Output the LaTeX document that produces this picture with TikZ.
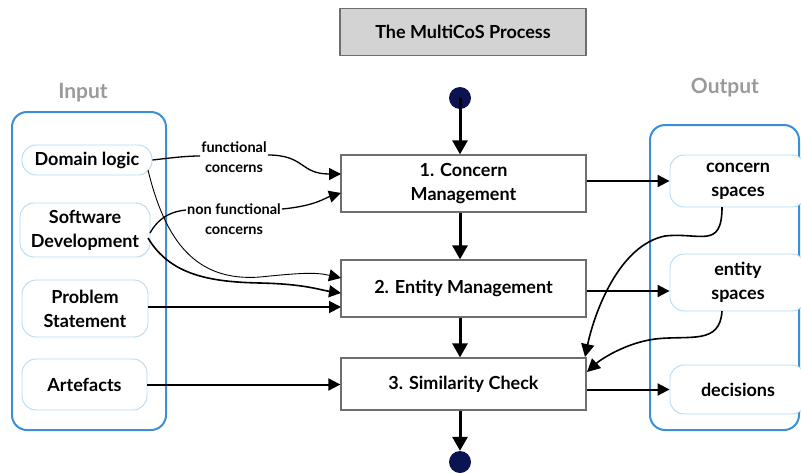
\documentclass[tikz,border=0pt]{standalone}
\usepackage{fontspec}
\setmainfont{Lato}
\usetikzlibrary{arrows.meta,positioning}
\definecolor{frameblue}{HTML}{3B8FD9}
\definecolor{itemblue}{HTML}{B3DAF5}
\definecolor{dotnavy}{HTML}{0B1450}
\definecolor{boxgray}{HTML}{6E6E6E}
\definecolor{titlefill}{HTML}{D3D3D3}
\definecolor{labelgray}{HTML}{9A9A9A}
\tikzset{
  stepbox/.style={draw=boxgray, line width=1.3pt, fill=white, minimum width=245pt,
    align=center, font=\fontsize{18}{24}\selectfont\bfseries},
  item/.style={draw=itemblue, line width=0.9pt, rounded corners=14pt, fill=white,
    align=center, font=\fontsize{18}{24}\selectfont\bfseries},
  frame/.style={draw=frameblue, line width=2pt, rounded corners=15pt},
  grouplabel/.style={text=labelgray, font=\fontsize{21}{24}\selectfont\bfseries},
  edgelabel/.style={align=center, font=\fontsize{14.5}{20}\selectfont\bfseries, inner sep=1pt},
  flow/.style={line width=3pt, -{Triangle[length=14pt,width=15pt]}},
  feed/.style={line width=2pt, -{Triangle[length=12pt,width=12pt]}},
  thinfeed/.style={line width=0.9pt, -{Triangle[length=12pt,width=12pt]}},
  dot/.style={circle, fill=dotnavy, minimum size=22pt, inner sep=0pt},
}
\begin{document}
\begin{tikzpicture}[x=1pt,y=-1pt]
\useasboundingbox (0,0) rectangle (801,472);
\clip (0,0) rectangle (801,472);

% title
\node[draw=boxgray, line width=1.3pt, fill=titlefill, minimum width=246pt, minimum height=47pt,
  font=\fontsize{18}{22}\selectfont\bfseries] (title) at (463,32) {The MultiCoS Process};

% group frames
\draw[frame] (12,112) rectangle (166,430);
\draw[frame] (650,125) rectangle (799,430);
\node[grouplabel] (inlabel) at (83,93) {Input};
\node[grouplabel] (outlabel) at (725,88) {Output};

% process steps
\node[stepbox, minimum height=57pt] (s1) at (463.5,183.5) {1. Concern\\Management};
\node[stepbox, minimum height=57pt] (s2) at (463.5,288.5) {2. Entity Management};
\node[stepbox, minimum height=52pt] (s3) at (463.5,384) {3. Similarity Check};

\node[dot] (start) at (460,98) {};
\node[dot] (end) at (460,462) {};

\draw[flow] (start.center) -- (start.center |- s1.north);
\draw[flow] (s1.south -| start) -- (s2.north -| start);
\draw[flow] (s2.south -| start) -- (s3.north -| start);
\draw[flow] (s3.south -| start) -- (end.north);

% inputs
\node[item, minimum width=130pt, minimum height=30pt] (dom) at (87,160) {Domain logic};
\node[item, minimum width=130pt, minimum height=54pt] (swd) at (85,230) {Software\\Development};
\node[item, minimum width=126pt, minimum height=57pt] (prob) at (85,308.5) {Problem\\Statement};
\node[item, minimum width=125pt, minimum height=51pt] (art) at (84.5,384.5) {Artefacts};

% outputs
\node[item, minimum width=136pt, minimum height=52pt] (cs) at (738,181) {concern\\spaces};
\node[item, minimum width=136pt, minimum height=57pt] (es) at (738,282.5) {entity\\spaces};
\node[item, minimum width=136pt, minimum height=49pt] (dec) at (738,389.5) {decisions};

% concern labels on the input edges
\node[edgelabel] (fc) at (234,157) {functional\\concerns};
\node[edgelabel] (nfc) at (234,219) {non functional\\concerns};

\coordinate (s1a) at (341,174);
\coordinate (s1b) at (341,193);
\coordinate (s2a) at (341,278);
\coordinate (s2b) at (341,293);
\coordinate (s2c) at (341,307);

\draw[line width=1.3pt] (dom.east) .. controls (170,158) and (185,156) .. (fc.west |- 0,156);
\draw[line width=1.3pt, -{Triangle[length=12pt,width=12pt]}]
  (fc.east |- 0,155) .. controls (305,155) and (300,174) .. (s1a);
\draw[line width=1.3pt] (150,233) .. controls (160,215) and (175,211) .. (nfc.west |- 0,210);
\draw[line width=1.3pt, -{Triangle[length=12pt,width=12pt]}]
  (nfc.east |- 0,209) .. controls (315,206) and (325,198) .. (s1b);

\draw[thinfeed] (148,170) .. controls (165,240) and (195,282) .. (260,277)
  .. controls (300,273) and (315,272) .. (s2a);
\draw[line width=1.6pt, -{Triangle[length=12pt,width=12pt]}]
  (148,238) .. controls (170,275) and (210,282) .. (260,283)
  .. controls (305,284) and (320,290) .. (s2b);
\draw[feed] (prob.east |- s2c) -- (s2c);
\draw[feed] (art.east) -- (s3.west |- art.east);

% outputs from the steps
\draw[feed] (s1.east |- cs.west) -- (cs.west);
\draw[feed] (s2.east |- 0,291) -- (es.west |- 0,291);
\draw[feed] (s3.east |- dec.west) -- (dec.west);

% spaces fed back into the similarity check
\draw[line width=1.6pt, -{Triangle[length=13pt,width=13pt]}]
  (722,207) .. controls (722,250) and (700,232) .. (665,236)
  .. controls (620,245) and (595,310) .. (585,357);
\draw[line width=1.6pt, -{Triangle[length=13pt,width=13pt]}]
  (722,311) .. controls (720,345) and (690,335) .. (655,339)
  .. controls (625,343) and (600,360) .. (587,372);
\end{tikzpicture}
\end{document}
